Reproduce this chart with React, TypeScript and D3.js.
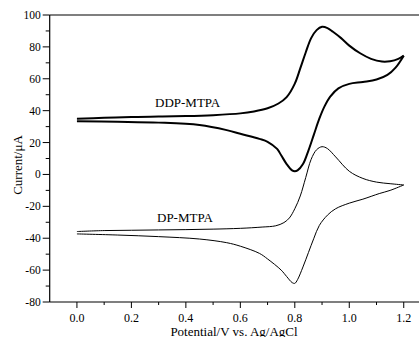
import React from "react";
import * as d3 from "d3";

// DDP-MTPA forward (anodic) scan [potential V, current µA]
const ddpForward: [number, number][] = [
  [0.0, 35.0], [0.1, 35.5], [0.2, 36.0], [0.3, 36.3], [0.4, 36.6], [0.5, 37.2],
  [0.6, 38.3], [0.65, 39.5], [0.7, 41.5], [0.74, 44.5], [0.77, 48.5], [0.8, 57],
  [0.82, 66.5], [0.84, 76.5], [0.86, 85.5], [0.88, 90.5], [0.9, 92.6], [0.92, 91.8],
  [0.94, 89.5], [0.97, 85.5], [1.0, 80.8], [1.04, 76], [1.08, 72.5], [1.12, 70.8],
  [1.15, 71.0], [1.18, 72.5], [1.2, 74.5],
];
// DDP-MTPA reverse (cathodic) scan
const ddpReverse: [number, number][] = [
  [1.2, 74.5], [1.17, 67], [1.14, 62.4], [1.1, 59.5], [1.05, 58], [1.0, 56.8],
  [0.96, 54], [0.93, 48.8], [0.91, 43], [0.89, 35], [0.87, 25], [0.85, 15],
  [0.83, 6.5], [0.81, 2.5], [0.8, 2], [0.79, 2.5], [0.77, 6.5], [0.75, 12],
  [0.735, 16], [0.7, 20.5], [0.67, 22.3], [0.6, 25.5], [0.55, 27.8], [0.45, 31],
  [0.3, 32.5], [0.15, 33], [0.0, 33.3],
];
// DP-MTPA forward scan
const dpForward: [number, number][] = [
  [0.0, -35.8], [0.1, -35.2], [0.2, -35.0], [0.3, -34.8], [0.4, -34.6], [0.5, -34.3],
  [0.6, -33.8], [0.68, -33], [0.73, -32.2], [0.76, -30.2], [0.78, -27.3], [0.8, -21.5],
  [0.82, -13.5], [0.84, -2], [0.86, 9.5], [0.88, 15.5], [0.9, 17.4], [0.92, 16.2],
  [0.95, 11], [1.0, 2], [1.05, -2.5], [1.1, -4.8], [1.15, -5.8], [1.2, -6.6],
];
// DP-MTPA reverse scan
const dpReverse: [number, number][] = [
  [1.2, -6.6], [1.15, -10], [1.11, -12], [1.05, -15.5], [1.0, -18], [0.95, -21.5],
  [0.92, -25.5], [0.89, -32], [0.87, -40], [0.85, -49], [0.83, -58], [0.81, -66],
  [0.8, -68.3], [0.79, -67.8], [0.77, -64], [0.75, -60], [0.7, -53], [0.67, -49.5],
  [0.6, -45], [0.55, -42.8], [0.45, -40.5], [0.3, -39], [0.15, -38], [0.0, -37.3],
];

const xMajor = [0.0, 0.2, 0.4, 0.6, 0.8, 1.0, 1.2];
const xMinor = [0.1, 0.3, 0.5, 0.7, 0.9, 1.1];
const yMajor = [-80, -60, -40, -20, 0, 20, 40, 60, 80, 100];
const yMinor = [-70, -50, -30, -10, 10, 30, 50, 70, 90];

const seriesLabels = ["DDP-MTPA", "DP-MTPA"];

export default function App() {
  const W = 419, H = 337;
  const left = 49.7, right = 419, top = 15, bottom = 302;
  const x = d3.scaleLinear().domain([-0.1, 1.256]).range([left, right]);
  const y = d3.scaleLinear().domain([-80, 100]).range([bottom, top]);
  const line = d3
    .line<[number, number]>()
    .x((d) => x(d[0]))
    .y((d) => y(d[1]))
    .curve(d3.curveCatmullRom.alpha(0.5));
  const font = "'Liberation Serif', 'Times New Roman', serif";

  return (
    <svg
      width={W}
      height={H}
      style={{ position: "absolute", left: 0, top: 0, background: "#fff" }}
      fontFamily={font}
    >
      <rect x={0} y={0} width={W} height={H} fill="#fff" />
      {/* frame */}
      <line x1={left} x2={right} y1={top} y2={top} stroke="#000" strokeWidth={1.2} />
      <line x1={left} x2={right} y1={bottom} y2={bottom} stroke="#000" strokeWidth={1.2} />
      <line x1={left} x2={left} y1={top} y2={bottom} stroke="#000" strokeWidth={1.2} />

      {/* y ticks */}
      {yMajor.map((v) => (
        <g key={"ym" + v}>
          <line x1={left - 7} x2={left} y1={y(v)} y2={y(v)} stroke="#000" strokeWidth={1} />
          <text x={left - 9} y={y(v)} dy="0.35em" textAnchor="end" fontSize={11.5}>
            {v}
          </text>
        </g>
      ))}
      {yMinor.map((v) => (
        <line key={"yn" + v} x1={left - 4} x2={left} y1={y(v)} y2={y(v)} stroke="#000" strokeWidth={1} />
      ))}

      {/* x ticks */}
      {xMajor.map((v) => (
        <g key={"xm" + v}>
          <line x1={x(v)} x2={x(v)} y1={bottom} y2={bottom + 6} stroke="#000" strokeWidth={1} />
          <text x={x(v)} y={322} textAnchor="middle" fontSize={12}>
            {v.toFixed(1)}
          </text>
        </g>
      ))}
      {xMinor.map((v) => (
        <line key={"xn" + v} x1={x(v)} x2={x(v)} y1={bottom} y2={bottom + 3} stroke="#000" strokeWidth={1} />
      ))}

      {/* curves */}
      <path d={line(ddpForward) || ""} fill="none" stroke="#000" strokeWidth={2} />
      <path d={line(ddpReverse) || ""} fill="none" stroke="#000" strokeWidth={2} />
      <path d={line(dpForward) || ""} fill="none" stroke="#000" strokeWidth={1} />
      <path d={line(dpReverse) || ""} fill="none" stroke="#000" strokeWidth={1} />

      {/* series labels */}
      <text x={155} y={107} fontSize={13}>{seriesLabels[0]}</text>
      <text x={157} y={222} fontSize={13}>{seriesLabels[1]}</text>

      {/* axis titles */}
      <text x={234} y={335.5} textAnchor="middle" fontSize={13}>
        Potential/V vs. Ag/AgCl
      </text>
      <text
        transform={`translate(22, 165) rotate(-90)`}
        textAnchor="middle"
        fontSize={13}
      >
        Current/μA
      </text>
    </svg>
  );
}
